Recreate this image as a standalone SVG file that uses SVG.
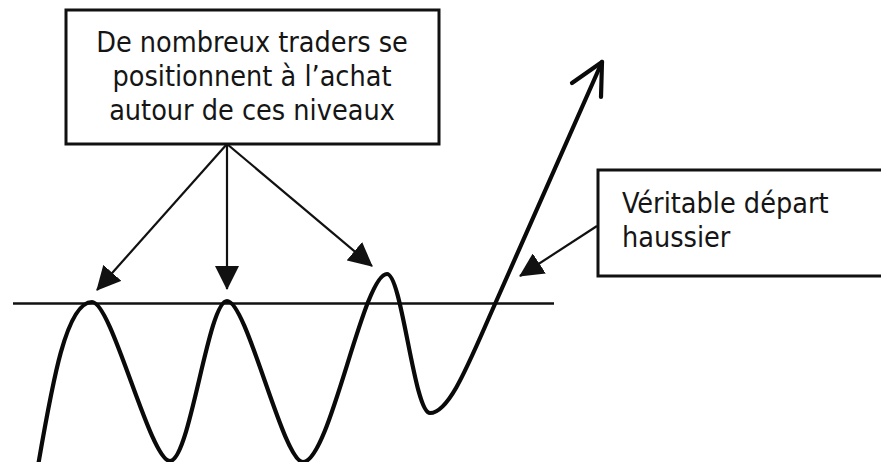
<svg xmlns="http://www.w3.org/2000/svg" width="881" height="462" viewBox="0 0 881 462">
<style>
.box{fill:#fff;stroke:#111;stroke-width:3}
.lbl{font-family:"DejaVu Sans Condensed","DejaVu Sans",Verdana,sans-serif;font-size:28.5px;fill:#151515}
.conn{fill:none;stroke:#111;stroke-width:2.2}
.wave{fill:none;stroke:#0a0a0a;stroke-width:4.2;stroke-linecap:round;stroke-linejoin:round}
</style>
<defs>
<marker id="tri" markerUnits="userSpaceOnUse" viewBox="0 0 24 24" markerWidth="24" markerHeight="24" refX="23" refY="12" orient="auto">
<path d="M0,0 L24,12 L0,24 z" fill="#111"/>
</marker>
</defs>
<rect width="881" height="462" fill="#fff"/>
<g id="level-line">
<line x1="13" y1="303.5" x2="554" y2="303.5" stroke="#111" stroke-width="2.6"/>
</g>
<g id="price-curve">
<path class="wave" d="M38,466 C52,385 66,302 92,302 C112,302 150,461 170,461 C190,461 208,301 227,301 C247,301 283,462 303,462 C330,462 363,274 387,274 C402,274 414,413 430,413 C450,413 470,360 495,304 L602,62"/>
<path class="wave" d="M572,83 L602,62 L601,97"/>
</g>
<g id="box-traders">
<rect class="box" x="66" y="10" width="373" height="134"/>
<text class="lbl" x="252" y="52" text-anchor="middle">De nombreux traders se</text>
<text class="lbl" x="252" y="86" text-anchor="middle">positionnent à l’achat</text>
<text class="lbl" x="252" y="120" text-anchor="middle">autour de ces niveaux</text>
</g>
<g id="box-depart">
<rect class="box" x="598" y="170" width="300" height="106"/>
<text class="lbl" x="622" y="213">Véritable départ</text>
<text class="lbl" x="622" y="247">haussier</text>
</g>
<g id="connectors">
<line class="conn" x1="227" y1="144" x2="97" y2="290" marker-end="url(#tri)"/>
<line class="conn" x1="227" y1="144" x2="227" y2="289" marker-end="url(#tri)"/>
<line class="conn" x1="227" y1="144" x2="372" y2="266" marker-end="url(#tri)"/>
<line class="conn" x1="597" y1="226" x2="520" y2="276" marker-end="url(#tri)"/>
</g>
</svg>
